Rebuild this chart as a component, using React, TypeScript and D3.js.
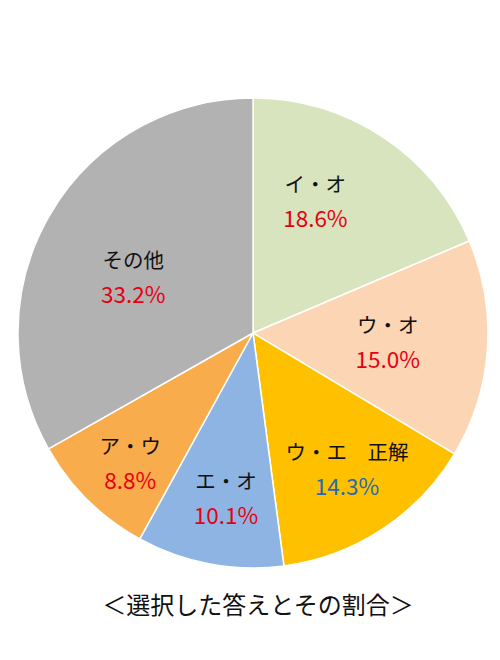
import * as d3 from 'd3';
import { useEffect, useRef } from 'react';

const categories = ['イ・オ', 'ウ・オ', 'ウ・エ　正解', 'エ・オ', 'ア・ウ', 'その他'];
const shares = [18.6, 15.0, 14.3, 10.1, 8.8, 33.2];
const sliceColors = ['#D7E4BD', '#FCD5B5', '#FFC000', '#8EB4E3', '#F9AC4C', '#B2B2B2'];
const valueColors = ['#E60012', '#E60012', '#1F6BB5', '#E60012', '#E60012', '#E60012'];
const title = '＜選択した答えとその割合＞';

// label placement (radius fraction + nudge), Excel "best fit" look
const labelRadius = [0.62, 0.575, 0.69, 0.715, 0.78, 0.56];
const labelNudge: [number, number][] = [[-18, -10], [0, 0], [5, 0], [4, 0], [6, 0], [-6, 10]];

const width = 500;
const height = 660;
const cx = 253;
const cy = 333;
const radius = 235;

const App = () => {
    const ref = useRef<SVGSVGElement | null>(null);

    useEffect(() => {
        const svg = d3.select(ref.current);
        svg.selectAll('*').remove();

        const pie = d3.pie<number>().sort(null).value(d => d);
        const arcs = pie(shares);
        const arc = d3.arc<d3.PieArcDatum<number>>().innerRadius(0).outerRadius(radius);

        const g = svg.append('g').attr('transform', `translate(${cx},${cy})`);

        g.selectAll('path')
            .data(arcs)
            .enter()
            .append('path')
            .attr('d', arc)
            .attr('fill', (d, i) => sliceColors[i])
            .attr('stroke', '#fff')
            .attr('stroke-width', 1.5);

        const labels = g.selectAll('g.lbl')
            .data(arcs)
            .enter()
            .append('g')
            .attr('class', 'lbl')
            .attr('transform', (d, i) => {
                const a = (d.startAngle + d.endAngle) / 2;
                const r = radius * labelRadius[i];
                const x = Math.sin(a) * r + labelNudge[i][0];
                const y = -Math.cos(a) * r + labelNudge[i][1];
                return `translate(${x},${y})`;
            });

        labels.append('text')
            .attr('text-anchor', 'middle')
            .attr('y', -9)
            .attr('font-size', 20.5)
            .attr('fill', '#111')
            .text((d, i) => categories[i]);

        labels.append('text')
            .attr('text-anchor', 'middle')
            .attr('y', 26)
            .attr('font-size', 22.5)
            .attr('fill', (d, i) => valueColors[i])
            .text(d => d.data.toFixed(1) + '%');

        svg.append('text')
            .attr('x', 258)
            .attr('y', 614)
            .attr('text-anchor', 'middle')
            .attr('font-size', 24)
            .attr('fill', '#111')
            .text(title);
    }, []);

    return (
        <svg
            ref={ref}
            width={width}
            height={height}
            style={{ position: 'absolute', left: 0, top: 0, background: '#fff', fontFamily: '"Noto Sans CJK JP", "Noto Sans", sans-serif' }}
        />
    );
};

export default App;
